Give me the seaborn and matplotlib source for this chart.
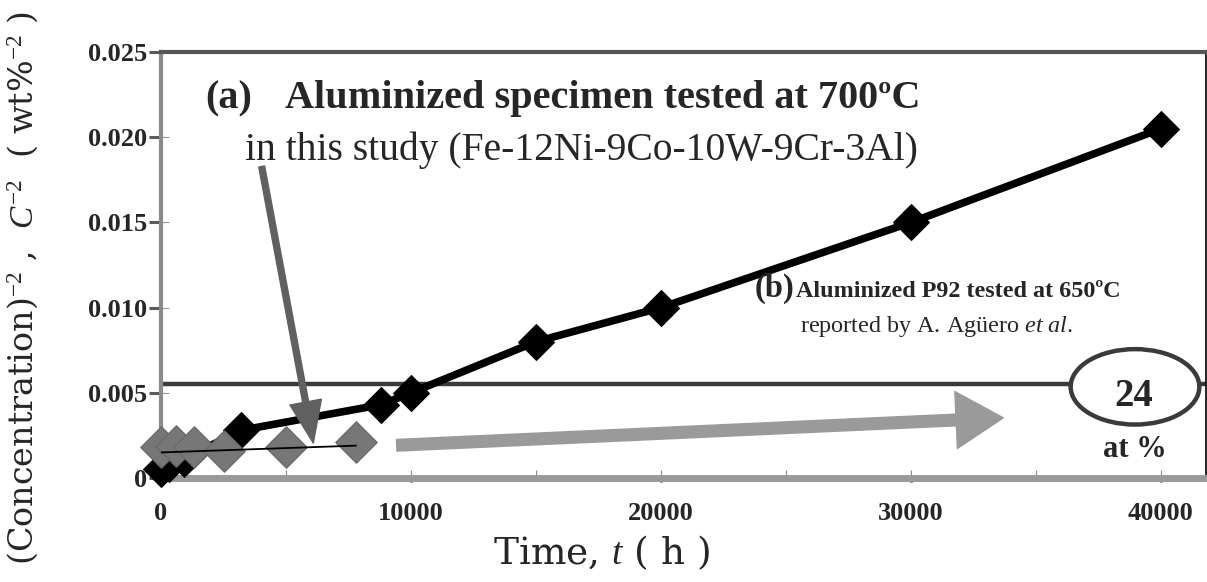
import matplotlib
matplotlib.use('Agg')
import matplotlib.pyplot as plt
import seaborn as sns
import numpy as np
from matplotlib.patches import Ellipse, FancyArrowPatch

# ---------------- data ----------------
time_a = [0, 300, 900, 3200, 8800, 10000, 15000, 20000, 30000, 40000]
conc_a = [0.0005, 0.0008, 0.0011, 0.0028, 0.0043, 0.0050, 0.0080, 0.0100, 0.0150, 0.0205]
time_b = [0, 600, 1300, 2500, 5000, 7800]
conc_b = [0.0018, 0.0019, 0.0018, 0.0016, 0.0018, 0.0021]
fit_b_time = [0, 7800]
fit_b_conc = [0.0015, 0.0019]
threshold_conc = 0.0055
threshold_label = '24'
threshold_unit = 'at %'
x_ticks = [0, 10000, 20000, 30000, 40000]
x_tick_labels = ['0', '10000', '20000', '30000', '40000']
x_inner_ticks = [5000, 10000, 15000, 20000, 25000, 30000, 35000, 40000]
y_ticks = [0, 0.005, 0.010, 0.015, 0.020, 0.025]
y_tick_labels = ['0', '0.005', '0.010', '0.015', '0.020', '0.025']

# ---------------- style ----------------
sns.set_theme(style='white')
plt.rcParams['font.family'] = ['Liberation Serif', 'DejaVu Serif']
plt.rcParams['mathtext.fontset'] = 'custom'
plt.rcParams['mathtext.rm'] = 'Liberation Serif'
plt.rcParams['mathtext.it'] = 'Liberation Serif:italic'
plt.rcParams['mathtext.bf'] = 'Liberation Serif:bold'

fig = plt.figure(figsize=(12.07, 5.82), dpi=100)
ax = fig.add_axes([161/1207, 1-478/582, 1045/1207, 426/582])

# series (a): black line with diamonds
sns.lineplot(x=time_a, y=conc_a, ax=ax, color='black', lw=5.5, marker='D',
             markersize=18, markeredgecolor='black', estimator=None,
             clip_on=False, zorder=3)
# series (b): grey diamonds + thin fit
sns.scatterplot(x=time_b, y=conc_b, ax=ax, marker='D', s=21**2, color='#777777',
                edgecolor='#6a6a6a', linewidth=1, zorder=4, clip_on=False)
sns.lineplot(x=fit_b_time, y=fit_b_conc, ax=ax, color='black', lw=1.3, zorder=5)

ax.axhline(threshold_conc, color='#3a3a3a', lw=3.2, zorder=2)

ell = Ellipse((38960, 0.00535), 5148, 0.004425, facecolor='white',
              edgecolor='#3a3a3a', lw=3.2, zorder=6, clip_on=False)
ax.add_patch(ell)
ax.text(38920, 0.00481, threshold_label, fontsize=28, fontweight='bold',
        ha='center', va='center', zorder=8)
ax.text(38960, 0.00168, threshold_unit, fontsize=22, fontweight='bold',
        ha='center', va='center', zorder=8)

# arrows
arr1 = FancyArrowPatch((4028, 0.01828), (6092, 0.00205),
                       arrowstyle='simple,head_length=30,head_width=23,tail_width=4.3',
                       mutation_scale=1, color='#606060', zorder=4,
                       shrinkA=0, shrinkB=0)
ax.add_patch(arr1)
arr2 = FancyArrowPatch((9428, 0.00192), (33692, 0.00353),
                       arrowstyle='simple,head_length=34,head_width=41,tail_width=8.4',
                       mutation_scale=1, color='#9a9a9a', zorder=4,
                       shrinkA=0, shrinkB=0)
ax.add_patch(arr2)

# annotation texts
ax.text(1760, 0.02170, '(a)', fontsize=29, fontweight='bold', ha='left', va='baseline')
ax.text(4960, 0.02170, 'Aluminized specimen tested at 700ºC', fontsize=29,
        fontweight='bold', ha='left', va='baseline')
ax.text(3360, 0.01867, 'in this study (Fe-12Ni-9Co-10W-9Cr-3Al)', fontsize=28.5,
        ha='left', va='baseline')
ax.text(23760, 0.01065, '(b)', fontsize=23.5, fontweight='bold', ha='left', va='baseline')
ax.text(25400, 0.01065, 'Aluminized P92 tested at 650ºC', fontsize=17.4,
        fontweight='bold', ha='left', va='baseline')
ax.text(25560, 0.00854, r'reported by A. Agüero $\mathit{et\ al.}$', fontsize=17.4,
        ha='left', va='baseline')

# axes limits / ticks
ax.set_xlim(0, 41800)
ax.set_ylim(0, 0.025)
ax.set_xticks(x_ticks, x_tick_labels)
ax.set_yticks(y_ticks, y_tick_labels)
ax.tick_params(axis='y', direction='out', length=9, width=2.2, color='#5a5a5a',
               pad=1, labelsize=19, left=True)
ax.tick_params(axis='x', direction='out', length=3, width=2.2, color='#3a3a3a',
               pad=14, labelsize=19, bottom=True)
for lbl in ax.get_xticklabels() + ax.get_yticklabels():
    lbl.set_fontweight('bold')

secx = ax.secondary_xaxis('bottom')
secx.set_xticks(x_inner_ticks)
secx.tick_params(direction='in', length=6, width=0.8, color='#8a8a8a', labelbottom=False)
secx.spines['bottom'].set_visible(False)
secy = ax.secondary_yaxis('left')
secy.set_yticks(y_ticks[1:])
secy.tick_params(direction='in', length=6, width=0.8, color='#9a9a9a', labelleft=False)
secy.spines['left'].set_visible(False)

for side in ax.spines:
    ax.spines[side].set_visible(True)
ax.spines['top'].set_color('#555555'); ax.spines['top'].set_linewidth(3)
ax.spines['right'].set_color('black'); ax.spines['right'].set_linewidth(1.2)
ax.spines['left'].set_color('#8a8a8a'); ax.spines['left'].set_linewidth(3)
ax.spines['bottom'].set_color('#9a9a9a'); ax.spines['bottom'].set_linewidth(5)

ax.set_xlabel(r'Time, $t$ ( h )', fontsize=27, family=['DejaVu Serif'], va='center')
ax.xaxis.set_label_coords(602/1207, 1-553/582, transform=fig.transFigure)
ax.set_ylabel(r'(Concentration)$^{-2}$ ,  $C^{-2}$  ( wt%$^{-2}$ )', fontsize=24,
              family=['DejaVu Serif'], va='center')
ax.yaxis.set_label_coords(23/1207, 1-288/582, transform=fig.transFigure)

fig.savefig('out.png', dpi=100)
